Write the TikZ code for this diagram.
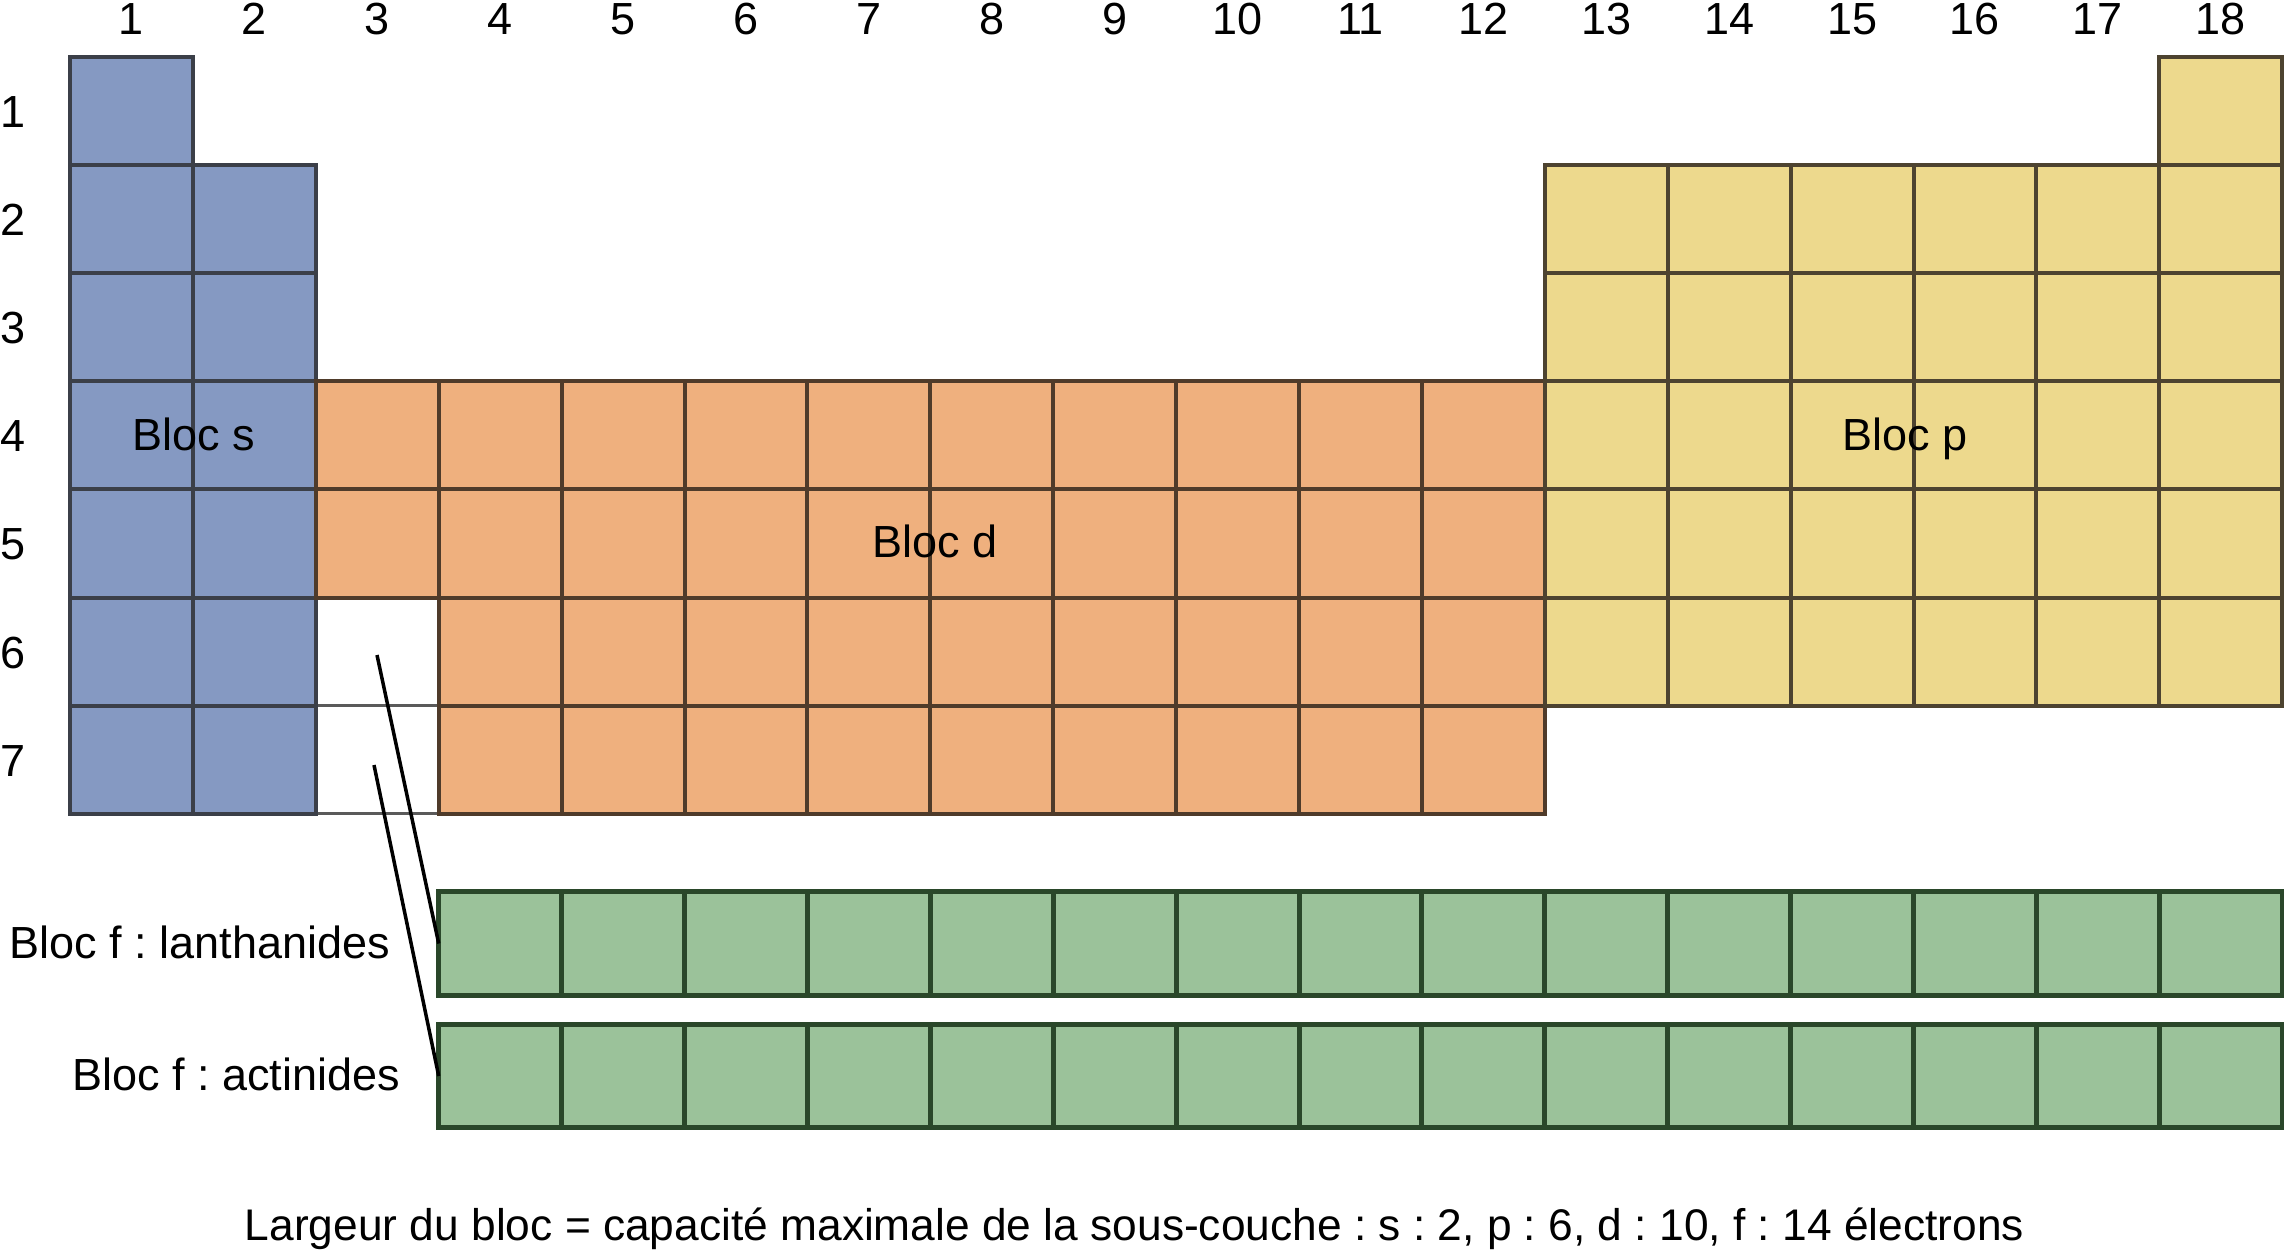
\documentclass[tikz,border=0pt]{standalone}
\usepackage{fontspec}
\setmainfont{Liberation Sans}
\definecolor{sfill}{HTML}{8599C2}
\definecolor{sline}{HTML}{3B3F48}
\definecolor{dfill}{HTML}{EFB07E}
\definecolor{dline}{HTML}{4F3B2A}
\definecolor{pfill}{HTML}{EDD98D}
\definecolor{pline}{HTML}{4D4330}
\definecolor{ffill}{HTML}{9BC29A}
\definecolor{fline}{HTML}{2A472A}
\definecolor{eline}{HTML}{5A5A5A}
\frenchspacing
\begin{document}
\begin{tikzpicture}[x=1pt,y=-1pt,
  every node/.style={font=\fontsize{45}{54}\selectfont, inner sep=0pt, outer sep=0pt},
  cell/.style={rectangle, line width=4pt, minimum width=122.9pt, minimum height=108.1pt},
  scell/.style={cell, draw=sline, fill=sfill},
  dcell/.style={cell, draw=dline, fill=dfill},
  pcell/.style={cell, draw=pline, fill=pfill},
  ecell/.style={cell, draw=eline, line width=3pt, fill=white},
  fcell/.style={cell, draw=fline, fill=ffill, line width=5pt, minimum height=103.5pt},
  lbl/.style={anchor=base},
  link/.style={draw=black, line width=3.5pt}]
\useasboundingbox (0,0) rectangle (2284,1253);
% empty cells (group 3, periods 6-7)
\foreach \r in {6,7}
  \node[ecell] (e-\r) at ({70+2.5*122.9},{57+(\r-0.5)*108.1}) {};
% s block
\foreach \r in {1,...,7}
  \node[scell] (s-\r-1) at ({70+0.5*122.9},{57+(\r-0.5)*108.1}) {};
\foreach \r in {2,...,7}
  \node[scell] (s-\r-2) at ({70+1.5*122.9},{57+(\r-0.5)*108.1}) {};
% d block
\foreach \r in {4,5}
  \node[dcell] (d-\r-3) at ({70+2.5*122.9},{57+(\r-0.5)*108.1}) {};
\foreach \c in {4,...,12}
  \foreach \r in {4,...,7}
    \node[dcell] (d-\r-\c) at ({70+(\c-0.5)*122.9},{57+(\r-0.5)*108.1}) {};
% p block
\node[pcell] (p-1-18) at ({70+17.5*122.9},{57+0.5*108.1}) {};
\foreach \c in {13,...,18}
  \foreach \r in {2,...,6}
    \node[pcell] (p-\r-\c) at ({70+(\c-0.5)*122.9},{57+(\r-0.5)*108.1}) {};
% f block
\foreach \i in {1,...,15} {
  \node[fcell] (la-\i) at ({70+(\i+2.5)*122.9},943.5) {};
  \node[fcell] (ac-\i) at ({70+(\i+2.5)*122.9},1076) {};
}
% group numbers
\foreach \c in {1,...,18}
  \node[lbl] (g-\c) at ({70+(\c-0.5)*122.9},34) {\c};
% period numbers
\foreach \r in {1,...,7}
  \node[anchor=base west] (per-\r) at (0,{57+(\r-0.5)*108.1+16.5}) {\r};
% block labels
\node[lbl] (ls) at (194,450) {Bloc s};
\node[lbl] (ld) at (935,557.5) {Bloc d};
\node[lbl] (lp) at (1905,450) {Bloc p};
\node[anchor=base east] (llan) at (390,958) {Bloc f : lanthanides};
\node[anchor=base east] (lact) at (400,1090) {Bloc f : actinides};
% connectors
\coordinate (e6pt) at (377,655);
\coordinate (e7pt) at (374,765);
\draw[link] (e6pt) -- (la-1.west);
\draw[link] (e7pt) -- (ac-1.west);
% caption
\node[lbl, font=\fontsize{44.3}{53}\selectfont] (cap) at (1134.5,1240.5) {Largeur du bloc = capacité maximale de la sous-couche : s : 2, p : 6, d : 10, f : 14 électrons};
\end{tikzpicture}
\end{document}
